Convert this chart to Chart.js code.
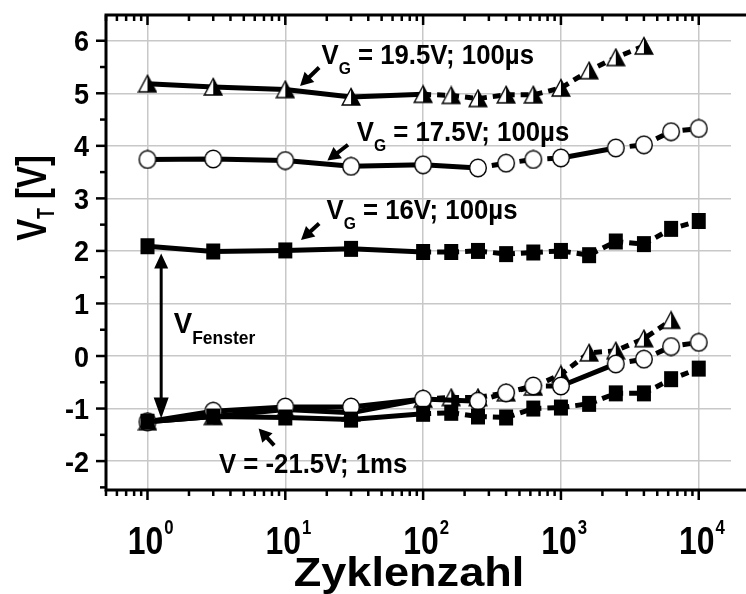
<!DOCTYPE html>
<html>
<head>
<meta charset="utf-8">
<script src="https://cdn.jsdelivr.net/npm/chart.js@4.4.1/dist/chart.umd.min.js"></script>
<style>
  html, body { margin: 0; padding: 0; background: #fff; }
</style>
</head>
<body>
<canvas id="vtCanvas" width="746" height="594"></canvas>
<script>
// cycle counts (x) per marker family
const cyclesTri = [1, 3, 10, 30, 100, 160, 250, 400, 630, 1000, 1600, 2500, 4000];
const cyclesCirc = [1, 3, 10, 30, 100, 250, 400, 630, 1000, 2500, 4000, 6300, 10000];
const cyclesSq = [1, 3, 10, 30, 100, 160, 250, 400, 630, 1000, 1600, 2500, 4000, 6300, 10000];
const cyclesTriLow = [1, 3, 10, 30, 100, 160, 250, 400, 630, 1000, 1600, 2500, 4000, 6300];

// threshold voltage after programming (V)
const triProg = [5.18, 5.12, 5.07, 4.93, 4.98, 4.96, 4.90, 4.97, 4.97, 5.10, 5.43, 5.68, 5.90];
const circProg = [3.74, 3.75, 3.72, 3.61, 3.64, 3.58, 3.67, 3.74, 3.77, 3.96, 4.02, 4.27, 4.33];
const sqProg = [2.09, 1.99, 2.01, 2.04, 1.98, 1.98, 2.00, 1.94, 1.97, 2.00, 1.92, 2.18, 2.13, 2.42, 2.57];

// threshold voltage after erase (V)
const triErase = [-1.25, -1.15, -1.02, -1.08, -0.82, -0.79, -0.79, -0.70, -0.59, -0.35, 0.06, 0.10, 0.33, 0.68];
const circErase = [-1.25, -1.05, -0.97, -0.97, -0.82, -0.86, -0.70, -0.57, -0.57, -0.15, -0.06, 0.18, 0.26];
const sqErase = [-1.25, -1.15, -1.17, -1.21, -1.10, -1.08, -1.15, -1.17, -1.00, -0.98, -0.91, -0.71, -0.71, -0.44, -0.24];

const yTicks = [-2, -1, 0, 1, 2, 3, 4, 5, 6];
const xDecades = [0, 1, 2, 3, 4];

const FONT = "'Liberation Sans', Arial, sans-serif";
const GRID = "#c8c8c8";

function pairs(xs, ys) {
  return xs.map((x, i) => ({ x: x, y: ys[i] }));
}

// marker images (Origin style)
function makeMarker(kind) {
  const c = document.createElement("canvas");
  c.width = 20;
  c.height = 20;
  const g = c.getContext("2d");
  g.lineWidth = 1.4;
  g.strokeStyle = "#000";
  if (kind == "tri") {
    g.beginPath();
    g.moveTo(10, 1.5); g.lineTo(1.2, 18); g.lineTo(18.8, 18); g.closePath();
    g.fillStyle = "#fff"; g.fill();
    g.beginPath();
    g.moveTo(10, 1.5); g.lineTo(10, 18); g.lineTo(18.8, 18); g.closePath();
    g.fillStyle = "#000"; g.fill();
    g.beginPath();
    g.moveTo(10, 1.5); g.lineTo(1.2, 18); g.lineTo(18.8, 18); g.closePath();
    g.stroke();
  } else if (kind == "circ") {
    g.beginPath();
    g.ellipse(10, 10, 8.3, 8.8, 0, 0, Math.PI * 2);
    g.fillStyle = "#fff"; g.fill(); g.stroke();
  } else {
    g.fillStyle = "#000";
    g.fillRect(3, 2, 14, 16);
  }
  return c;
}
const triImg = makeMarker("tri");
const circImg = makeMarker("circ");
const sqImg = makeMarker("sq");

// solid between far points, dashed where points are dense
const segStyle = {
  borderDash: (ctx) => (ctx.p0.parsed.x >= 100 && ctx.p1.parsed.x / ctx.p0.parsed.x < 2 ? [8, 6] : undefined),
};

function series(data, img) {
  return {
    data: data,
    borderColor: "#000",
    borderWidth: 5,
    pointStyle: img,
    pointRadius: 10,
    tension: 0,
    segment: segStyle,
  };
}

// annotations in data coordinates; parts = [text, size, dy]
const notes = [
  { x: 18.3, y: 5.56, parts: [["V", 28, 0], ["G", 17, 10], [" = 19.5V; 100µs", 28, 0]], arrow: [17.6, 5.49, 12.8, 5.14] },
  { x: 33, y: 4.10, parts: [["V", 28, 0], ["G", 17, 10], [" = 17.5V; 100µs", 28, 0]], arrow: [28.5, 4.02, 20.2, 3.72] },
  { x: 19.9, y: 2.60, parts: [["V", 28, 0], ["G", 17, 10], [" = 16V; 100µs", 28, 0]], arrow: [17.6, 2.52, 13.0, 2.21] },
  { x: 1.55, y: 0.43, parts: [["V", 30, 0], ["Fenster", 19, 11]] },
  { x: 3.3, y: -2.22, parts: [["V = -21.5V; 1ms", 28, 0]], arrow: [8.3, -1.70, 6.4, -1.38] },
];
const fensterArrow = { x: 1.257, yTop: 1.95, yBottom: -1.19 };

function partsWidth(ctx, parts) {
  let w = 0;
  for (const [t, size] of parts) {
    ctx.font = `bold ${size}px ${FONT}`;
    w += ctx.measureText(t).width;
  }
  return w;
}

// draws text pieces with a horizontal squeeze (condensed look)
function drawParts(ctx, x, y, parts, sx) {
  ctx.save();
  ctx.translate(x, y);
  ctx.scale(sx, 1);
  let cx = 0;
  for (const [t, size, dy] of parts) {
    ctx.font = `bold ${size}px ${FONT}`;
    ctx.fillText(t, cx, dy);
    cx += ctx.measureText(t).width;
  }
  ctx.restore();
  return cx * sx;
}

function arrowHead(ctx, x0, y0, x1, y1, len, half) {
  const a = Math.atan2(y1 - y0, x1 - x0);
  ctx.beginPath();
  ctx.moveTo(x1, y1);
  ctx.lineTo(x1 - len * Math.cos(a) + half * Math.sin(a), y1 - len * Math.sin(a) - half * Math.cos(a));
  ctx.lineTo(x1 - len * Math.cos(a) - half * Math.sin(a), y1 - len * Math.sin(a) + half * Math.cos(a));
  ctx.closePath();
  ctx.fill();
}

function arrow(ctx, x0, y0, x1, y1, len, half, w) {
  const a = Math.atan2(y1 - y0, x1 - x0);
  ctx.lineWidth = w;
  ctx.beginPath();
  ctx.moveTo(x0, y0);
  ctx.lineTo(x1 - len * 0.8 * Math.cos(a), y1 - len * 0.8 * Math.sin(a));
  ctx.stroke();
  arrowHead(ctx, x0, y0, x1, y1, len, half);
}

const axesPlugin = {
  id: "originAxes",
  afterDraw(chart) {
    const ctx = chart.ctx;
    const xs = chart.scales.x;
    const ys = chart.scales.y;
    const a = chart.chartArea;
    ctx.save();
    ctx.fillStyle = "#000";
    ctx.strokeStyle = "#000";

    // frame
    ctx.lineWidth = 3;
    ctx.beginPath();
    ctx.moveTo(a.left, a.bottom);
    ctx.lineTo(a.left, a.top);
    ctx.moveTo(a.left - 1.5, a.top);
    ctx.lineTo(chart.width, a.top);
    ctx.moveTo(a.left - 1.5, a.bottom);
    ctx.lineTo(chart.width, a.bottom);
    ctx.stroke();

    // log ticks top (inward) and bottom (outward)
    ctx.lineWidth = 2.5;
    for (let d = -1; d <= 4; d++) {
      for (let k = 1; k <= 9; k++) {
        const v = k * Math.pow(10, d);
        if (v < xs.min || v > xs.max) continue;
        const px = xs.getPixelForValue(v);
        const len = k == 1 ? 10 : 6;
        ctx.beginPath();
        ctx.moveTo(px, a.top);
        ctx.lineTo(px, a.top + len);
        ctx.moveTo(px, a.bottom);
        ctx.lineTo(px, a.bottom + len);
        ctx.stroke();
      }
    }
    // y ticks (outward), majors and halves, with labels
    for (let v = -2.5; v <= 6.01; v += 0.5) {
      if (v < ys.min) continue;
      const py = ys.getPixelForValue(v);
      const len = Number.isInteger(v) ? 10 : 6;
      ctx.beginPath();
      ctx.moveTo(a.left, py);
      ctx.lineTo(a.left - len, py);
      ctx.stroke();
    }
    ctx.textBaseline = "alphabetic";
    ctx.textAlign = "left";
    for (const v of yTicks) {
      const py = ys.getPixelForValue(v);
      const parts = [[String(v), 30, 0]];
      const w = partsWidth(ctx, parts) * 0.9;
      drawParts(ctx, 89 - w, py + 10.5, parts, 0.9);
    }

    // x tick labels 10^n
    for (const n of xDecades) {
      const px = xs.getPixelForValue(Math.pow(10, n));
      ctx.font = `bold 38px ${FONT}`;
      const w = ctx.measureText("10").width * 0.84;
      drawParts(ctx, px - w / 2 - 2, 554, [["10", 38, 0]], 0.84);
      drawParts(ctx, px + w / 2 - 1, 534, [[String(n), 20, 0]], 0.84);
    }

    // axis titles
    const xt = [["Zyklenzahl", 41, 0]];
    const xw = partsWidth(ctx, xt) * 1.1;
    drawParts(ctx, 409 - xw / 2, 586, xt, 1.1);

    ctx.save();
    ctx.translate(46, 198);
    ctx.rotate(-Math.PI / 2);
    const yParts = [["V", 42, 0], ["T", 23, 8], [" [V]", 42, 0]];
    const tw = partsWidth(ctx, yParts) * 0.78;
    drawParts(ctx, -tw / 2, 0, yParts, 0.78);
    ctx.restore();

    // annotations
    for (const n of notes) {
      drawParts(ctx, xs.getPixelForValue(n.x), ys.getPixelForValue(n.y), n.parts, 0.92);
      if (n.arrow) {
        const [x0, y0, x1, y1] = n.arrow;
        arrow(ctx, xs.getPixelForValue(x0), ys.getPixelForValue(y0),
          xs.getPixelForValue(x1), ys.getPixelForValue(y1), 13, 7, 4);
      }
    }
    // V_Fenster double arrow
    const fx = xs.getPixelForValue(fensterArrow.x);
    const fTop = ys.getPixelForValue(fensterArrow.yTop);
    const fBot = ys.getPixelForValue(fensterArrow.yBottom);
    ctx.lineWidth = 3;
    ctx.beginPath();
    ctx.moveTo(fx, fTop + 10);
    ctx.lineTo(fx, fBot - 10);
    ctx.stroke();
    arrowHead(ctx, fx, fBot, fx, fTop, 15, 7);
    arrowHead(ctx, fx, fTop, fx, fBot, 21, 7.5);
    ctx.restore();
  },
};

new Chart(document.getElementById("vtCanvas"), {
  type: "line",
  data: {
    datasets: [
      series(pairs(cyclesSq, sqErase), sqImg),
      series(pairs(cyclesCirc, circErase), circImg),
      series(pairs(cyclesTriLow, triErase), triImg),
      series(pairs(cyclesSq, sqProg), sqImg),
      series(pairs(cyclesCirc, circProg), circImg),
      series(pairs(cyclesTri, triProg), triImg),
    ],
  },
  options: {
    responsive: false,
    animation: false,
    devicePixelRatio: 1,
    layout: { padding: { top: 11, right: 1, left: 0, bottom: 0 } },
    plugins: { legend: { display: false }, tooltip: { enabled: false } },
    scales: {
      x: {
        type: "logarithmic",
        min: 0.5,
        max: 17140,
        ticks: { display: false },
        border: { display: false },
        grid: {
          drawTicks: false,
          lineWidth: 1.5,
          color: (c) => {
            const v = c.tick ? c.tick.value : 0;
            const l = Math.log10(v);
            return Math.abs(l - Math.round(l)) < 1e-9 ? GRID : "rgba(0,0,0,0)";
          },
        },
        afterFit: (s) => { s.height = 104; },
      },
      y: {
        min: -2.55,
        max: 6.49,
        ticks: { display: false, stepSize: 1, includeBounds: false },
        border: { display: false },
        grid: { drawTicks: false, color: GRID, lineWidth: 1.5 },
        afterFit: (s) => { s.width = 106; },
      },
    },
  },
  plugins: [axesPlugin],
});
</script>
</body>
</html>
